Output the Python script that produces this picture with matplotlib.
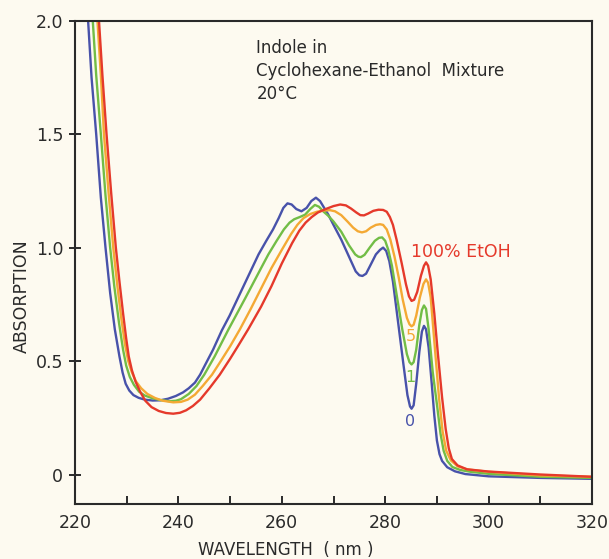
import matplotlib
matplotlib.use("Agg")
import matplotlib.pyplot as plt
from matplotlib.ticker import MultipleLocator

# wavelength (nm) / absorption, one list pair per mixture
wl_0 = [222.4, 223.2, 224.1, 225.0, 225.9, 226.8, 227.7, 228.6, 229.2, 229.8,
        230.5, 231.3, 232.3, 233.5, 235.0, 236.5, 238.0, 239.5, 240.9, 242.0,
        243.2, 244.2, 245.1, 246.7, 248.4, 249.9, 252.8, 255.5, 257.0, 258.3,
        259.4, 260.3, 261.1, 261.9, 262.8, 263.8, 264.8, 265.7, 266.6, 267.4,
        268.2, 269.0, 270.0, 271.5, 273.0, 274.3, 275.0, 275.6, 276.3, 277.2,
        278.2, 279.0, 279.6, 280.2, 280.8, 281.5, 282.5, 283.5, 284.3, 284.8,
        285.1, 285.5, 286.0, 286.6, 287.1, 287.5, 287.9, 288.4, 289.0, 289.5,
        290.0, 290.5, 291.0, 292.0, 293.5, 295.5, 300.0, 310.0, 320.0]
abs_0 = [2.05, 1.75, 1.5, 1.22, 1.0, 0.80, 0.64, 0.52, 0.45, 0.40,
         0.37, 0.35, 0.338, 0.330, 0.326, 0.327, 0.334, 0.346, 0.362, 0.38,
         0.405, 0.44, 0.48, 0.55, 0.635, 0.70, 0.84, 0.97, 1.03, 1.08,
         1.13, 1.175, 1.195, 1.19, 1.17, 1.16, 1.175, 1.205, 1.22, 1.205,
         1.175, 1.145, 1.10, 1.035, 0.96, 0.895, 0.878, 0.875, 0.885, 0.925,
         0.97, 0.99, 1.0, 0.985, 0.94, 0.85, 0.67, 0.49, 0.35, 0.30,
         0.29, 0.305, 0.40, 0.54, 0.63, 0.655, 0.64, 0.56, 0.40, 0.26,
         0.15, 0.09, 0.06, 0.032, 0.014, 0.002, -0.008, -0.015, -0.019]

wl_1 = [223.3, 224.1, 225.0, 225.9, 226.8, 227.6, 228.5, 229.3, 229.9, 230.6,
        231.4, 232.4, 233.5, 235.0, 236.5, 238.3, 239.5, 240.5, 242.0, 243.5,
        245.0, 247.0, 249.7, 253.0, 256.0, 257.4, 259.0, 260.4, 261.5, 262.4,
        263.5, 264.5, 265.5, 266.4, 267.2, 268.0, 269.0, 270.0, 271.5, 273.0,
        274.2, 274.8, 275.3, 276.0, 277.0, 278.0, 278.8, 279.4, 280.0, 280.6,
        281.3, 282.3, 283.3, 284.2, 284.7, 285.1, 285.5, 286.0, 286.6, 287.1,
        287.5, 287.9, 288.4, 289.2, 290.0, 290.7, 291.3, 292.0, 293.0, 294.5,
        296.5, 300.0, 310.0, 320.0]
abs_1 = [2.05, 1.76, 1.5, 1.23, 1.0, 0.83, 0.67, 0.55, 0.48, 0.43,
         0.395, 0.365, 0.348, 0.336, 0.328, 0.323, 0.325, 0.332, 0.355, 0.39,
         0.44, 0.52, 0.64, 0.78, 0.91, 0.97, 1.03, 1.08, 1.11, 1.125,
         1.135, 1.145, 1.17, 1.188, 1.18, 1.16, 1.14, 1.115, 1.07, 1.01,
         0.97, 0.96, 0.958, 0.968, 1.0, 1.03, 1.043, 1.045, 1.03, 0.99,
         0.92, 0.78, 0.64, 0.53, 0.495, 0.485, 0.495, 0.55, 0.66, 0.725,
         0.745, 0.73, 0.64, 0.45, 0.31, 0.18, 0.105, 0.06, 0.033, 0.02,
         0.012, 0.003, -0.01, -0.015]

wl_5 = [224.2, 225.0, 225.6, 226.5, 227.4, 228.2, 229.0, 229.7, 230.3, 231.0,
        231.8, 232.8, 234.0, 235.5, 237.0, 239.0, 240.5, 241.8, 243.2, 244.7,
        246.5, 248.2, 250.0, 251.9, 254.0, 256.0, 258.0, 260.0, 261.8, 263.0,
        264.2, 265.5, 266.8, 268.0, 269.3, 270.3, 271.5, 272.7, 273.8, 274.7,
        275.5, 276.3, 277.2, 278.2, 279.0, 279.6, 280.3, 281.0, 281.8, 282.6,
        283.4, 284.2, 284.7, 285.1, 285.5, 286.0, 286.7, 287.4, 287.9, 288.3,
        288.8, 289.6, 290.4, 291.1, 291.8, 292.7, 294.0, 296.0, 300.0, 310.0,
        320.0]
abs_5 = [2.05, 1.76, 1.5, 1.24, 1.0, 0.83, 0.68, 0.57, 0.50, 0.45,
         0.41, 0.38, 0.355, 0.337, 0.325, 0.318, 0.32, 0.33, 0.352, 0.39,
         0.44, 0.50, 0.565, 0.64, 0.73, 0.82, 0.91, 0.99, 1.06, 1.10,
         1.13, 1.148, 1.158, 1.163, 1.165, 1.16, 1.143, 1.115, 1.088, 1.072,
         1.067, 1.072, 1.088, 1.10, 1.103, 1.10, 1.08, 1.035, 0.96, 0.87,
         0.77, 0.69, 0.662, 0.653, 0.66, 0.70, 0.78, 0.84, 0.86, 0.845,
         0.78, 0.56, 0.34, 0.19, 0.105, 0.062, 0.036, 0.022, 0.012, -0.004,
         -0.01]

wl_100 = [224.5, 225.3, 226.1, 227.0, 227.9, 228.6, 229.3, 229.9, 230.4, 231.0,
          231.7, 232.6, 233.6, 234.8, 236.2, 237.6, 239.0, 240.3, 241.5, 242.8,
          244.2, 246.0, 248.0, 250.0, 251.5, 253.5, 256.0, 258.0, 260.0, 262.0,
          263.4, 264.6, 265.8, 267.0, 268.5, 270.0, 271.3, 272.4, 273.4, 274.4,
          275.2, 275.9, 276.7, 277.7, 278.7, 279.6, 280.3, 280.9, 281.5, 282.2,
          283.2, 284.0, 284.6, 285.1, 285.6, 286.2, 286.9, 287.5, 287.9, 288.3,
          288.8, 289.5, 290.2, 291.0, 291.7, 292.3, 292.9, 294.0, 295.8, 300.0,
          310.0, 320.0]
abs_100 = [2.05, 1.76, 1.5, 1.24, 1.0, 0.85, 0.71, 0.60, 0.52, 0.46,
           0.41, 0.365, 0.325, 0.297, 0.28, 0.271, 0.268, 0.272, 0.283, 0.302,
           0.33, 0.38, 0.44, 0.51, 0.565, 0.64, 0.74, 0.83, 0.93, 1.02,
           1.075, 1.11, 1.135, 1.155, 1.17, 1.183, 1.19, 1.186, 1.172, 1.155,
           1.143, 1.142, 1.15, 1.162, 1.167, 1.166, 1.158, 1.135, 1.10, 1.035,
           0.93, 0.84, 0.785, 0.765, 0.77, 0.805, 0.875, 0.92, 0.935, 0.92,
           0.86, 0.71, 0.53, 0.34, 0.20, 0.115, 0.068, 0.04, 0.023, 0.013,
           0.0, -0.01]

series = [
    (wl_0, abs_0, "#4852aa", "0", 0.235),
    (wl_1, abs_1, "#72bd46", "1", 0.426),
    (wl_5, abs_5, "#f4a934", "5", 0.61),
    (wl_100, abs_100, "#e5392b", "100% EtOH", 0.98),
]

bg = "#fdfaf0"
ink = "#2a2a2a"

fig = plt.figure(figsize=(6.09, 5.59), dpi=100, facecolor=bg)
ax = fig.add_axes([75 / 609, 1 - 504 / 559, 517 / 609, 483.3 / 559], facecolor=bg)

for wl, ab, col, lab, ly in series:
    ax.plot(wl, ab, color=col, lw=1.7, solid_joinstyle="round")
    if lab == "100% EtOH":
        ax.text(284.9, ly, lab, color=col, fontsize=12.5, ha="left", va="center")
    else:
        ax.text(284.9, ly, lab, color=col, fontsize=11.5, ha="center", va="center")

ax.text(255.1, 1.88, "Indole in", fontsize=12, color=ink, va="center")
ax.text(255.1, 1.777, "Cyclohexane-Ethanol  Mixture", fontsize=12, color=ink, va="center")
ax.text(255.1, 1.678, "20°C", fontsize=12, color=ink, va="center")

ax.set_xlim(220, 320)
ax.set_ylim(-0.13, 2.0)
ax.xaxis.set_major_locator(MultipleLocator(20))
ax.xaxis.set_minor_locator(MultipleLocator(10))
ax.set_yticks([0, 0.5, 1.0, 1.5, 2.0])
ax.set_yticklabels(["0", "0.5", "1.0", "1.5", "2.0"])

ax.tick_params(axis="x", which="both", direction="in", length=6, width=1.4,
               colors=ink, labelsize=12.5, pad=7)
ax.tick_params(axis="y", direction="inout", length=9, width=1.4,
               colors=ink, labelsize=12.5, pad=4)
for s in ax.spines.values():
    s.set_color(ink)
    s.set_linewidth(1.5)

ax.set_xlabel("WAVELENGTH  ( nm )", fontsize=12, color=ink)
ax.xaxis.set_label_coords(0.407, -0.077)
ax.set_ylabel("ABSORPTION", fontsize=12.5, color=ink)
ax.yaxis.set_label_coords(-0.085, 0.43)

fig.savefig("out.png", dpi=100, facecolor=bg)
